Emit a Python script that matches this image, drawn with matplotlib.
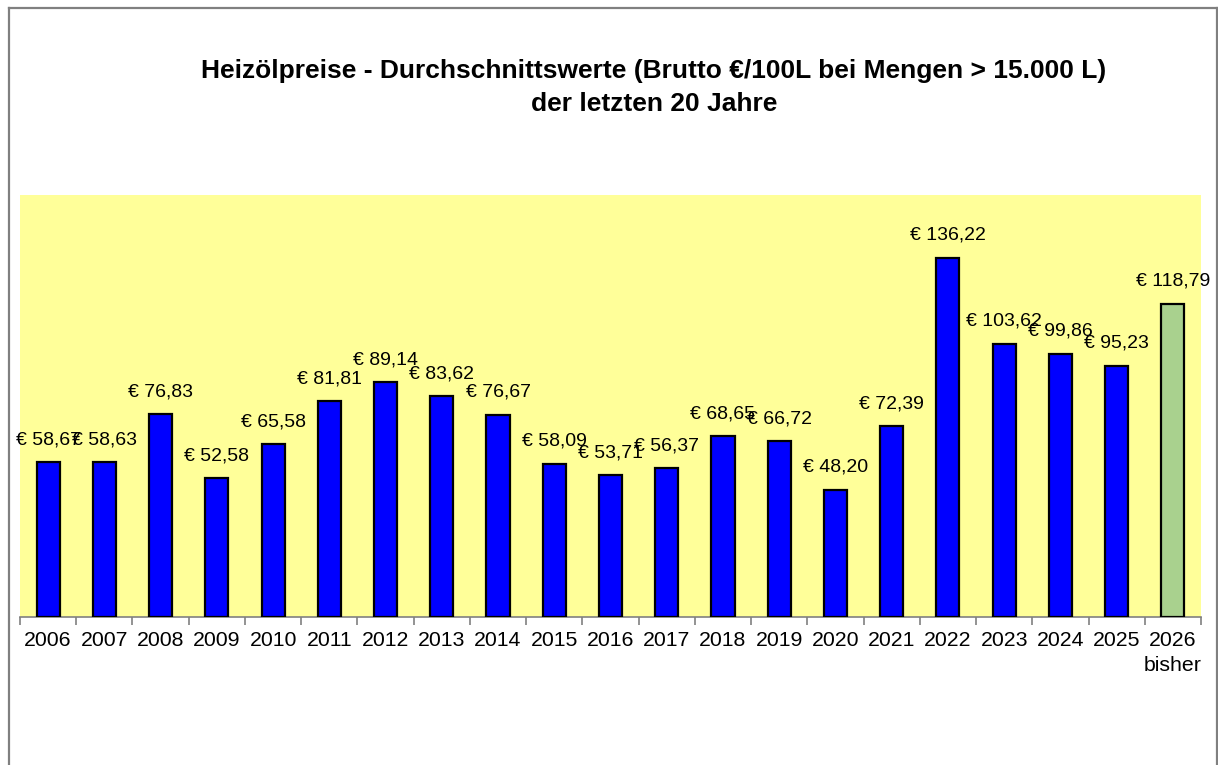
import numpy as np
import matplotlib.pyplot as plt
from matplotlib.lines import Line2D

# --- Daten ---
years = ["2006", "2007", "2008", "2009", "2010", "2011", "2012", "2013", "2014",
         "2015", "2016", "2017", "2018", "2019", "2020", "2021", "2022", "2023",
         "2024", "2025", "2026\nbisher"]
prices = [58.67, 58.63, 76.83, 52.58, 65.58, 81.81, 89.14, 83.62, 76.67, 58.09,
          53.71, 56.37, 68.65, 66.72, 48.20, 72.39, 136.22, 103.62, 99.86, 95.23,
          118.79]
title_lines = ["Heizölpreise - Durchschnittswerte (Brutto €/100L bei Mengen > 15.000 L)",
               "der letzten 20 Jahre"]

plt.rcParams["font.family"] = ["Liberation Sans", "DejaVu Sans"]

W, H = 1218, 765
fig = plt.figure(figsize=(W / 100, H / 100), dpi=100)
ax = fig.add_axes([20 / W, 1 - 617 / H, (1201 - 20) / W, (617 - 195) / H])
ax.set_facecolor("#FFFF99")

x = np.arange(len(years))
colors = ["#0000FF"] * (len(years) - 1) + ["#A9D18E"]
ax.bar(x, prices, width=0.41, color=colors, edgecolor="black", linewidth=1.6, zorder=3)

# Wertebeschriftung über den Balken (deutsches Zahlenformat)
for xi, v in zip(x, prices):
    label = "€ " + f"{v:.2f}".replace(".", ",")
    ax.annotate(label, (xi, v), xytext=(0, 10), textcoords="offset points",
                ha="center", va="bottom", fontsize=14, color="black",
                annotation_clip=False, clip_on=False, zorder=5)

ax.set_xlim(-0.5, len(years) - 0.5)
ax.set_ylim(0, 160)
ax.set_yticks([])
ax.set_xticks(x)
ax.set_xticklabels(years, fontsize=15.3, linespacing=1.4)
ax.set_xticks(np.arange(-0.5, len(years)), minor=True)
ax.tick_params(axis="x", which="major", length=0, pad=10)
ax.tick_params(axis="x", which="minor", length=6, width=1.2, color="#808080")
for s in ["top", "right", "left"]:
    ax.spines[s].set_visible(False)
ax.spines["bottom"].set_color("#808080")
ax.spines["bottom"].set_linewidth(1.2)

# Titel
fig.text(654 / W, 1 - 71 / H, title_lines[0], ha="center", va="center",
         fontsize=19, fontweight="bold")
fig.text(654 / W, 1 - 104 / H, title_lines[1], ha="center", va="center",
         fontsize=19, fontweight="bold")

# Rahmen um das Diagramm
bc = "#808080"
fig.add_artist(Line2D([8.5 / W, 8.5 / W], [0, 1 - 7.5 / H], transform=fig.transFigure, color=bc, lw=1.6))
fig.add_artist(Line2D([1216.5 / W, 1216.5 / W], [0, 1 - 7.5 / H], transform=fig.transFigure, color=bc, lw=1.6))
fig.add_artist(Line2D([8.5 / W, 1216.5 / W], [1 - 7.5 / H, 1 - 7.5 / H], transform=fig.transFigure, color=bc, lw=1.6))

fig.savefig("out.png", dpi=100)
